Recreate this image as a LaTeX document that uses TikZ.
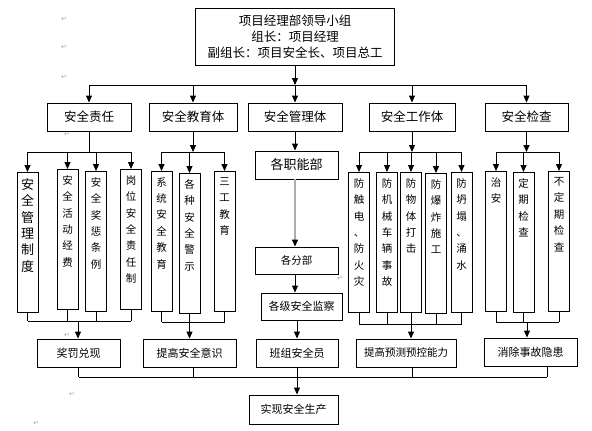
\documentclass[tikz,border=0pt]{standalone}
\usepackage{fontspec}
\setmainfont{Noto Sans CJK SC}
\newfontfamily\retfont{DejaVu Sans}
\usetikzlibrary{arrows.meta,positioning}

\newcommand{\vcol}[2][10.5]{\parbox[c][128pt][t]{14pt}{\centering\fontsize{#1}{16.4}\selectfont #2}}

\begin{document}
\begin{tikzpicture}[x=1pt, y=-1pt, >={Triangle[length=7pt,width=6pt]}, line width=0.9pt]

    \tikzstyle{box}  = [rectangle, draw=black, line width=0.9pt, inner sep=0pt, align=center, minimum height=28pt, font=\fontsize{11}{13}\selectfont]
    \tikzstyle{head} = [box, font=\fontsize{12.5}{14}\selectfont]
    \tikzstyle{col}  = [rectangle, draw=black, line width=0.9pt, anchor=north, inner xsep=3.5pt, inner ysep=6pt]
    \tikzstyle{ret}  = [text=gray!70, inner sep=0pt, font=\retfont\fontsize{7}{8}\selectfont]

    \useasboundingbox (0,0) rectangle (592,431);

    % leading group and the five branches
    \node (lead)   [box, minimum width=199pt, minimum height=57pt, font=\fontsize{12.5}{16}\selectfont] at (295,36.5)
                   {项目经理部领导小组\\组长：项目经理\\副组长：项目安全长、项目总工};

    \node (resp)   [head, minimum width=84pt]  at (89,117)    {安全责任};
    \node (edu)    [head, minimum width=88pt]  at (193,117)   {安全教育体};
    \node (mgmt)   [head, minimum width=94pt]  at (295,117)   {安全管理体};
    \node (work)   [head, minimum width=86pt]  at (412,117)   {安全工作体};
    \node (check)  [head, minimum width=83pt]  at (526.5,117) {安全检查};

    \coordinate (top) at (295,85);
    \draw[->] (lead) -- (top);
    \draw (top -| resp) -- (top -| check);
    \foreach \n in {resp,edu,mgmt,work,check}
        \draw[->] (top -| \n) -- (\n);

    % columns
    \node (c11) [col] at (27.5,172) {\vcol[13]{安\\全\\管\\理\\制\\度}};
    \node (c12) [col] at (67.5,169) {\vcol{安\\全\\活\\动\\经\\费}};
    \node (c13) [col] at (96,171)   {\vcol{安\\全\\奖\\惩\\条\\例}};
    \node (c14) [col] at (131,169)  {\vcol{岗\\位\\安\\全\\责\\任\\制}};

    \node (c21) [col] at (161.5,171) {\vcol{系\\统\\安\\全\\教\\育}};
    \node (c22) [col] at (189.5,173) {\vcol{各\\种\\安\\全\\警\\示}};
    \node (c23) [col] at (224.5,171) {\vcol{三\\工\\教\\育}};

    \node (c41) [col] at (359,172)   {\vcol{防\\触\\电\\、\\防\\火\\灾}};
    \node (c42) [col] at (387,172)   {\vcol{防\\机\\械\\车\\辆\\事\\故}};
    \node (c43) [col] at (411,172)   {\vcol{防\\物\\体\\打\\击}};
    \node (c44) [col] at (436,173)   {\vcol{防\\爆\\炸\\施\\工}};
    \node (c45) [col] at (461.5,172) {\vcol{防\\坍\\塌\\、\\涌\\水}};

    \node (c51) [col] at (496,171)   {\vcol{治\\安}};
    \node (c52) [col] at (523.5,172) {\vcol{定\\期\\检\\查}};
    \node (c53) [col] at (559,171)   {\vcol{不\\定\\期\\检\\查}};

    % management chain
    \node (dept)   [box, minimum width=83pt, font=\fontsize{13}{15}\selectfont] at (296.5,165) {各职能部};
    \node (branch) [box, minimum width=83pt, minimum height=27pt, font=\fontsize{10.5}{12}\selectfont] at (296.5,260.5) {各分部};
    \node (super)  [box, minimum width=81pt, minimum height=27pt] at (301.5,306.5) {各级安全监察};

    % results
    \node (award)   [box, minimum width=83pt]  at (78.5,353)  {奖罚兑现};
    \node (aware)   [box, minimum width=93pt]  at (189.5,353) {提高安全意识};
    \node (squad)   [box, minimum width=82pt]  at (297,353)   {班组安全员};
    \node (predict) [box, minimum width=100pt, font=\fontsize{10.5}{12}\selectfont] at (406,353) {提高预测预控能力};
    \node (hazard)  [box, minimum width=93pt]  at (530.5,352) {消除事故隐患};

    \node (safe)    [box, minimum width=89pt, minimum height=29pt] at (293.5,409.5) {实现安全生产};

    % branch trees
    \coordinate (rj) at (89,152);
    \draw (resp) -- (rj);
    \draw (rj -| c11) -- (rj -| c14);
    \foreach \n in {c11,c12,c13,c14}
        \draw[->] (rj -| \n) -- (\n);

    \coordinate (ej) at (193,152);
    \draw[->] (edu) -- (ej);
    \draw (ej -| c21) -- (ej -| c23);
    \foreach \n in {c21,c22,c23}
        \draw[->] (ej -| \n) -- (\n);

    \draw[->] (mgmt) -- (mgmt |- dept.north);
    \draw[-{Triangle[length=7pt,width=6pt,color=black]}, gray!65, line width=1.3pt] (dept.south -| mgmt) -- (branch.north -| mgmt);
    \draw[->] (branch.south -| mgmt) -- (super.north -| mgmt);

    \coordinate (wj) at (412,152);
    \draw[->] (work) -- (wj);
    \draw (wj -| c41) -- (wj -| c45);
    \foreach \n in {c41,c42,c43,c44,c45}
        \draw[->] (wj -| \n) -- (\n);

    \coordinate (kj) at (526.5,152);
    \draw[->] (check) -- (kj);
    \draw (kj -| c51) -- (kj -| c53);
    \foreach \n in {c51,c52,c53}
        \draw[->] (kj -| \n) -- (\n);

    % column bottoms to results
    \coordinate (rb) at (78,321);
    \foreach \n in {c11,c12,c13,c14}
        \draw (\n.south) -- (\n.south |- rb);
    \draw (rb -| c11) -- (rb -| c14);
    \draw[->] (rb) -- (rb |- award.north);

    \coordinate (eb) at (189.5,322);
    \foreach \n in {c21,c22,c23}
        \draw (\n.south) -- (\n.south |- eb);
    \draw (eb -| c21) -- (eb -| c23);
    \draw[->] (eb) -- (eb |- aware.north);

    \draw[->] (super.south -| squad.north) -- (squad.north);

    \coordinate (wb) at (411,324);
    \foreach \n in {c41,c42,c43,c44,c45}
        \draw (\n.south) -- (\n.south |- wb);
    \draw (wb -| c41) -- (wb -| c45);
    \draw[->] (wb) -- (wb |- predict.north);

    \coordinate (kb) at (527,322);
    \foreach \n in {c51,c52,c53}
        \draw (\n.south) -- (\n.south |- kb);
    \draw (kb -| c51) -- (kb -| c53);
    \draw[->] (kb) -- (kb |- hazard.north);

    % results to the goal
    \coordinate (fin) at (297,377);
    \draw (award.south)  -- (award.south |- fin);
    \draw ([xshift=3.5pt]aware.south) -- ([xshift=3.5pt]aware.south |- fin);
    \draw (squad.south)  -- (squad.south |- fin);
    \draw ([xshift=6pt]predict.south) -- ([xshift=6pt]predict.south |- fin);
    \draw ([xshift=16.5pt]hazard.south) -- ([xshift=16.5pt]hazard.south |- fin);
    \draw (award.south |- fin) -- ([xshift=16.5pt]hazard.south |- fin);
    \draw[->] (fin) -- (fin |- safe.north);

    % paragraph marks
    \node (m1) [ret] at (64,19)  {↵};
    \node (m2) [ret] at (64,47)  {↵};
    \node (m3) [ret] at (64,77)  {↵};
    \node (m4) [ret] at (67,134) {↵};
    \node (m5) [ret] at (340,278) {↵};
    \node (m6) [ret] at (67,335) {↵};
    \node (m7) [ret] at (72,394) {↵};
    \node (m8) [ret] at (36,423) {↵};

\end{tikzpicture}
\end{document}
